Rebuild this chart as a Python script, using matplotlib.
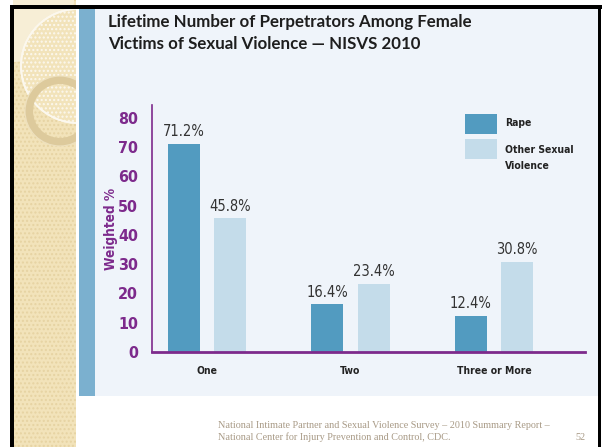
import numpy as np
import matplotlib.pyplot as plt
from matplotlib.patches import Rectangle, Circle

# datos de la grafica
categorias = ['One', 'Two', 'Three or More']
rape = [71.2, 16.4, 12.4]
otra_violencia = [45.8, 23.4, 30.8]
series = ['Rape', 'Other Sexual\nViolence']
yticks = [0, 10, 20, 30, 40, 50, 60, 70, 80]

W, H = 606, 447
morado = '#7D2A8C'
c_rape = '#529BC0'
c_otra = '#C4DCEA'
fondo = '#EFF4FA'
beige = '#F2E3BA'

fig = plt.figure(figsize=(W / 100, H / 100), dpi=100)
fig.patch.set_facecolor('white')

# ejes de fondo en pixeles para la diapositiva
bg = fig.add_axes([0, 0, 1, 1], zorder=0)
bg.set_xlim(0, W)
bg.set_ylim(H, 0)
bg.axis('off')

# panel beige de la izquierda con circulos
panel = Rectangle((13, 0), 63, H, facecolor=beige, edgecolor='#E6D3A2',
                  hatch='....', linewidth=0)
bg.add_patch(panel)
claro = Circle((12, 0), 62, facecolor='#F7EED6', edgecolor='none', linewidth=0)
bg.add_patch(claro)
claro.set_clip_path(panel)
grande = Circle((78, 66), 57, facecolor=beige, edgecolor='#FCF8EE', hatch='....',
                linewidth=1.3)
bg.add_patch(grande)
grande.set_clip_path(panel)
grande_borde = Circle((78, 66), 57, facecolor='none', edgecolor='#FCF8EE', linewidth=1.3)
bg.add_patch(grande_borde)
grande_borde.set_clip_path(panel)
anillo = Circle((60, 111), 31, facecolor='none', edgecolor='#DDCA9C', linewidth=5.8)
bg.add_patch(anillo)
anillo.set_clip_path(panel)
anillo2 = Circle((60, 111), 35, facecolor='none', edgecolor='#EEE1BF', linewidth=0.8)
bg.add_patch(anillo2)
anillo2.set_clip_path(panel)

# panel del grafico
bg.add_patch(Rectangle((79, 9), 16, 387, facecolor='#7BB0CF', linewidth=0))
bg.add_patch(Rectangle((95, 9), 503, 387, facecolor=fondo, linewidth=0))

# bordes negros
bg.add_patch(Rectangle((10, 5), 592, 3.5, facecolor='black', linewidth=0))
bg.add_patch(Rectangle((10, 5), 3.5, H, facecolor='black', linewidth=0))
bg.add_patch(Rectangle((598, 5), 3, H, facecolor='black', linewidth=0))

# titulo
bg.text(108, 22, 'Lifetime Number of Perpetrators Among Female', fontsize=12.2,
        fontweight='bold', color='#1E1E1E', va='center', family='Lato')
bg.text(108, 44, 'Victims of Sexual Violence \u2014 NISVS 2010', fontsize=12.2,
        fontweight='bold', color='#1E1E1E', va='center', family='Lato')

# pie de pagina
pie = dict(fontsize=7.3, color='#A89A86', va='center', family='Liberation Serif')
bg.text(218, 425, 'National Intimate Partner and Sexual Violence Survey \u2013 2010 Summary Report \u2013', **pie)
bg.text(218, 437, 'National Center for Injury Prevention and Control, CDC.', **pie)
bg.text(586, 437, '52', ha='right', **pie)

# leyenda
ley = dict(fontsize=7.5, fontweight='bold', color='#222222', va='center',
           family='DejaVu Sans', fontstretch='condensed')
bg.add_patch(Rectangle((465, 114), 32, 20, facecolor=c_rape, linewidth=0))
bg.add_patch(Rectangle((465, 139), 32, 20, facecolor=c_otra, linewidth=0))
bg.text(505, 123, series[0], **ley)
bg.text(505, 150, series[1].split('\n')[0], **ley)
bg.text(505, 166, series[1].split('\n')[1], **ley)

# grafico de barras
ax = fig.add_axes([152 / W, 1 - 352 / H, (585 - 152) / W, (352 - 105) / H], zorder=2)
ax.patch.set_alpha(0)
x = np.arange(len(categorias))
ancho = 0.223
sep = 0.162
b1 = ax.bar(x - sep, rape, ancho, color=c_rape)
b2 = ax.bar(x + sep, otra_violencia, ancho, color=c_otra)

for barras, vals in ((b1, rape), (b2, otra_violencia)):
    for b, v in zip(barras, vals):
        ax.text(b.get_x() + b.get_width() / 2, v + 1.5, f'{v}%', ha='center',
                va='bottom', fontsize=10.5, color='#333333',
                family='DejaVu Sans', fontstretch='condensed')

ax.set_xlim(-0.383, 2.634)
ax.set_ylim(0, 84.4)
ax.set_yticks(yticks)
ax.set_xticks(x)
ax.set_xticklabels(categorias, fontsize=7.5, fontweight='bold', color='#222222',
                   family='DejaVu Sans', fontstretch='condensed')
for t in ax.get_yticklabels():
    t.set_fontsize(11.5)
    t.set_fontweight('bold')
    t.set_color(morado)
    t.set_family('DejaVu Sans')
    t.set_fontstretch('condensed')
ax.tick_params(axis='both', length=0)
ax.tick_params(axis='y', pad=10)
ax.tick_params(axis='x', pad=10)
ax.set_ylabel('Weighted %', fontsize=9.8, fontweight='bold', color=morado,
              family='DejaVu Sans', fontstretch='condensed', labelpad=0)

for s in ['top', 'right']:
    ax.spines[s].set_visible(False)
ax.spines['left'].set_color(morado)
ax.spines['left'].set_linewidth(1.2)
ax.spines['bottom'].set_color(morado)
ax.spines['bottom'].set_linewidth(2)

fig.savefig('out.png', dpi=100)
